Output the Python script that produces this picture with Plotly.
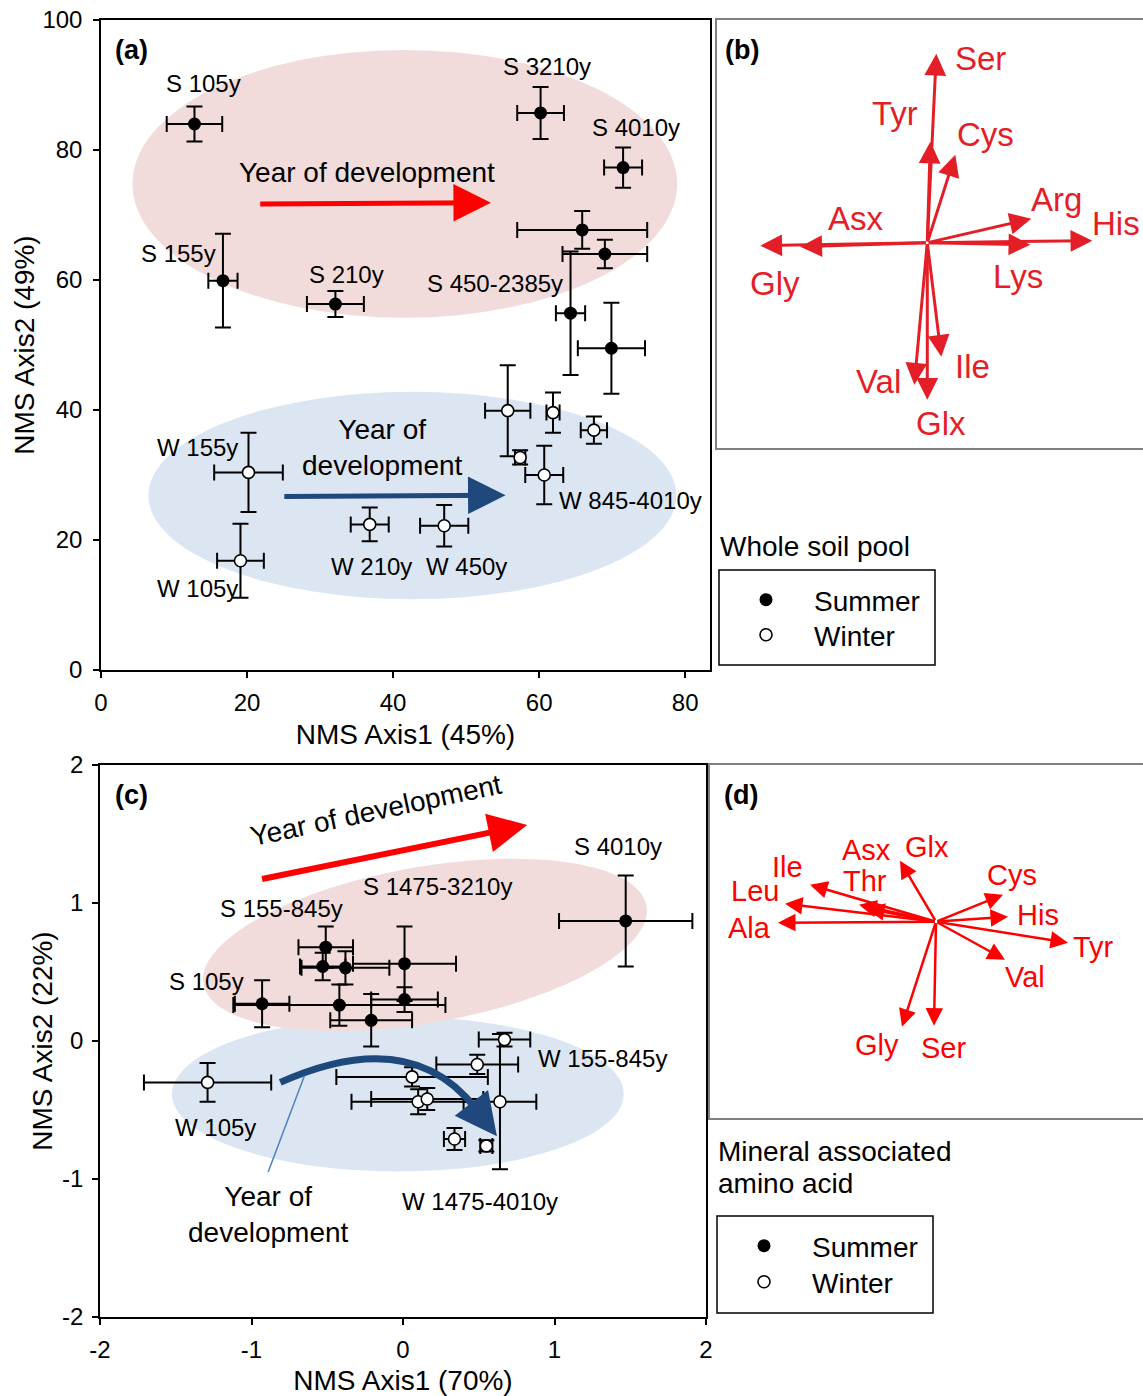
import math
import plotly.graph_objects as go

W, H = 1143, 1396
FONT = "Liberation Sans, Arial, Helvetica, sans-serif"

# ---------------- data ----------------
# (a) whole soil pool, NMS scores (mean and SE) by season
a_sum_x = [12.8, 16.7, 32.1, 65.9, 69.0, 64.3, 69.9, 60.2, 71.5]
a_sum_y = [84.0, 59.9, 56.3, 67.7, 64.0, 54.9, 49.5, 85.7, 77.3]
a_sum_xerr = [3.8, 2.0, 3.9, 8.9, 5.8, 2.0, 4.6, 3.2, 2.6]
a_sum_yerr = [2.7, 7.2, 2.0, 2.9, 2.2, 9.5, 7.0, 4.0, 3.1]

a_win_x = [19.1, 20.2, 36.8, 47.0, 55.7, 61.9, 67.5, 57.4, 60.7]
a_win_y = [16.8, 30.4, 22.4, 22.2, 39.9, 39.6, 36.9, 32.7, 30.0]
a_win_xerr = [3.2, 4.7, 2.6, 3.3, 3.1, 0.9, 1.8, 0.7, 2.6]
a_win_yerr = [5.7, 6.1, 2.6, 3.2, 7.0, 3.1, 2.1, 1.1, 4.5]

# (c) mineral associated amino acids, NMS scores (mean and SE)
c_sum_x = [-0.93, -0.51, -0.53, -0.38, -0.42, 0.01, 0.01, -0.21, 1.47]
c_sum_y = [0.27, 0.68, 0.54, 0.53, 0.26, 0.56, 0.30, 0.15, 0.87]
c_sum_xerr = [0.18, 0.18, 0.15, 0.29, 0.70, 0.34, 0.22, 0.27, 0.44]
c_sum_yerr = [0.17, 0.15, 0.10, 0.12, 0.15, 0.27, 0.09, 0.19, 0.33]

c_win_x = [-1.29, 0.67, 0.49, 0.06, 0.10, 0.16, 0.64, 0.34, 0.55]
c_win_y = [-0.30, 0.01, -0.17, -0.26, -0.44, -0.42, -0.44, -0.71, -0.76]
c_win_xerr = [0.42, 0.17, 0.27, 0.50, 0.44, 0.37, 0.24, 0.07, 0.04]
c_win_yerr = [0.14, 0.05, 0.07, 0.07, 0.09, 0.08, 0.49, 0.08, 0.04]

# (b) amino acid vectors, whole soil pool
b_names = ["Ser", "Tyr", "Cys", "Arg", "His", "Lys", "Asx", "Gly", "Val", "Glx", "Ile"]
b_axis1 = [0.09, 0.03, 0.28, 1.04, 1.65, 1.03, -1.27, -1.67, -0.13, 0.00, 0.14]
b_axis2 = [1.89, 1.01, 0.88, 0.24, 0.02, -0.02, -0.04, -0.03, -1.42, -1.57, -1.14]

# (d) amino acid vectors, mineral associated pool
d_names = ["Glx", "Asx", "Thr", "Ile", "Leu", "Ala", "Cys", "His", "Tyr", "Val", "Gly", "Ser"]
d_axis1 = [-0.36, -0.77, -0.69, -1.26, -1.51, -1.58, 0.67, 0.72, 1.32, 0.69, -0.34, -0.02]
d_axis2 = [0.61, 0.17, 0.13, 0.37, 0.18, -0.01, 0.27, 0.05, -0.21, -0.38, -1.05, -1.04]

# ---------------- layout helpers ----------------
A_BOX = (101, 710, 20, 670)      # left, right, top, bottom (px)
C_BOX = (100, 706, 765, 1317)
B_BOX = (717, 1143, 20, 448)
D_BOX = (710, 1143, 765, 1118)


def xdom(box):
    return [box[0] / W, box[1] / W]


def ydom(box):
    return [(H - box[3]) / H, (H - box[2]) / H]


def px(x):
    return x / W


def py(y):
    return 1 - y / H


RED_B = "#E41E26"
RED_D = "#FF0000"
ARROW_RED = "#FF0000"
ARROW_BLUE = "#1F497D"
PINK = "#F2DCDB"
LIGHTBLUE = "#DCE6F2"

fig = go.Figure()


def err(arr):
    return dict(type="data", array=arr, color="black", thickness=2, width=8)


summer_marker = dict(size=13, color="black", symbol="circle", line=dict(width=0))
winter_marker = dict(size=12, color="white", symbol="circle", line=dict(width=1.6, color="black"))

fig.add_trace(go.Scatter(x=a_sum_x, y=a_sum_y, mode="markers", name="Summer", legend="legend",
                         marker=summer_marker, error_x=err(a_sum_xerr), error_y=err(a_sum_yerr),
                         xaxis="x", yaxis="y", hoverinfo="skip"))
fig.add_trace(go.Scatter(x=a_win_x, y=a_win_y, mode="markers", name="Winter", legend="legend3",
                         marker=winter_marker, error_x=err(a_win_xerr), error_y=err(a_win_yerr),
                         xaxis="x", yaxis="y", hoverinfo="skip"))
fig.add_trace(go.Scatter(x=c_sum_x, y=c_sum_y, mode="markers", name="Summer", legend="legend2",
                         marker=summer_marker, error_x=err(c_sum_xerr), error_y=err(c_sum_yerr),
                         xaxis="x2", yaxis="y2", hoverinfo="skip"))
fig.add_trace(go.Scatter(x=c_win_x, y=c_win_y, mode="markers", name="Winter", legend="legend4",
                         marker=winter_marker, error_x=err(c_win_xerr), error_y=err(c_win_yerr),
                         xaxis="x2", yaxis="y2", hoverinfo="skip"))

shapes = []
annotations = []

# group ellipses, panel (a)
shapes.append(dict(type="circle", xref="x", yref="y", x0=4.3, x1=78.9, y0=54.2, y1=95.4,
                   fillcolor=PINK, line=dict(width=0), layer="below"))
shapes.append(dict(type="circle", xref="x", yref="y", x0=6.5, x1=78.8, y0=10.9, y1=42.8,
                   fillcolor=LIGHTBLUE, line=dict(width=0), layer="below"))


def ellipse_path(cx, cy, rx_px, ry_px, angle_deg, sx, sy, n=90):
    th = math.radians(angle_deg)
    pts = []
    for i in range(n):
        t = 2 * math.pi * i / n
        u, v = rx_px * math.cos(t), ry_px * math.sin(t)
        X = u * math.cos(th) - v * math.sin(th)
        Y = u * math.sin(th) + v * math.cos(th)
        pts.append((cx + X / sx, cy + Y / sy))
    return "M " + " L ".join(f"{x:.4f},{y:.4f}" for x, y in pts) + " Z"


c_sx = (C_BOX[1] - C_BOX[0]) / 4.0
c_sy = (C_BOX[3] - C_BOX[2]) / 4.0
# group ellipses, panel (c)
shapes.append(dict(type="circle", xref="x2", yref="y2", x0=-1.525, x1=1.457, y0=-0.946, y1=0.177,
                   fillcolor=LIGHTBLUE, line=dict(width=0), layer="below"))
shapes.append(dict(type="path", xref="x2", yref="y2",
                   path=ellipse_path(0.145, 0.696, 225, 78, 10, c_sx, c_sy),
                   fillcolor=PINK, line=dict(width=0), layer="below"))

# curved development arrow in (c)
shapes.append(dict(type="path", xref="x2", yref="y2", path="M -0.81,-0.30 Q 0.05,0.12 0.48,-0.49",
                   line=dict(color=ARROW_BLUE, width=7), layer="above"))
annotations.append(dict(x=0.62, y=-0.69, ax=0.47, ay=-0.475, xref="x2", yref="y2", axref="x2", ayref="y2",
                        text="", showarrow=True, arrowhead=2, arrowwidth=7, arrowsize=1.2,
                        arrowcolor=ARROW_BLUE))
shapes.append(dict(type="line", xref="x2", yref="y2", x0=-0.89, y0=-0.95, x1=-0.65, y1=-0.25,
                   line=dict(color="#4F81BD", width=1.5), layer="above"))

# straight development arrows
annotations.append(dict(x=53.4, y=71.9, ax=21.6, ay=71.7, xref="x", yref="y", axref="x", ayref="y",
                        text="", showarrow=True, arrowhead=2, arrowwidth=5, arrowsize=1.5,
                        arrowcolor=ARROW_RED))
annotations.append(dict(x=55.4, y=26.9, ax=24.9, ay=26.7, xref="x", yref="y", axref="x", ayref="y",
                        text="", showarrow=True, arrowhead=2, arrowwidth=5, arrowsize=1.5,
                        arrowcolor=ARROW_BLUE))
annotations.append(dict(x=0.82, y=1.565, ax=-0.94, ay=1.172, xref="x2", yref="y2", axref="x2", ayref="y2",
                        text="", showarrow=True, arrowhead=2, arrowwidth=6, arrowsize=1.3,
                        arrowcolor=ARROW_RED))


def label(x, y, text, xref, yref, size=24, color="black", xanchor="center", yanchor="middle", **kw):
    d = dict(x=x, y=y, xref=xref, yref=yref, text=text, showarrow=False,
             xanchor=xanchor, yanchor=yanchor,
             font=dict(family=FONT, size=size, color=color))
    d.update(kw)
    annotations.append(d)


# site labels, panel (a)
for t, x, y in [("S 105y", 14.1, 90.2), ("S 3210y", 61.1, 92.9), ("S 4010y", 73.2, 83.4),
                ("S 155y", 10.6, 64.0), ("S 210y", 33.6, 60.8), ("S 450-2385y", 54.0, 59.4),
                ("W 155y", 13.2, 34.3), ("W 105y", 13.2, 12.6), ("W 210y", 37.1, 16.0),
                ("W 450y", 50.0, 16.0), ("W 845-4010y", 72.5, 26.0)]:
    label(x, y, t, "x", "y")
label(36.4, 76.6, "Year of development", "x", "y", size=28)
label(38.6, 34.2, "Year of<br>development", "x", "y", size=28)

# site labels, panel (c)
for t, x, y in [("S 4010y", 1.42, 1.41), ("S 1475-3210y", 0.23, 1.12), ("S 155-845y", -0.80, 0.96),
                ("S 105y", -1.30, 0.43), ("W 155-845y", 1.32, -0.13), ("W 105y", -1.24, -0.63),
                ("W 1475-4010y", 0.51, -1.16)]:
    label(x, y, t, "x2", "y2")
label(-0.18, 1.67, "Year of development", "x2", "y2", size=28, textangle=-12)
label(-0.89, -1.26, "Year of<br>development", "x2", "y2", size=28)

# amino acid vectors, panel (b)
b_label_pos = {"Ser": (0.53, 1.84), "Tyr": (-0.32, 1.29), "Cys": (0.58, 1.08), "Arg": (1.29, 0.43),
               "His": (1.89, 0.19), "Lys": (0.91, -0.34), "Asx": (-0.71, 0.24), "Gly": (-1.52, -0.41),
               "Val": (-0.49, -1.39), "Ile": (0.45, -1.24), "Glx": (0.14, -1.81)}
for n, vx, vy in zip(b_names, b_axis1, b_axis2):
    annotations.append(dict(x=vx, y=vy, ax=0, ay=0, xref="x3", yref="y3", axref="x3", ayref="y3",
                            text="", showarrow=True, arrowhead=2, arrowwidth=3, arrowsize=1.45,
                            arrowcolor=RED_B))
    lx, ly = b_label_pos[n]
    label(lx, ly, n, "x3", "y3", size=33, color=RED_B)

# amino acid vectors, panel (d)
d_label_pos = {"Asx": (-0.70, 0.72), "Glx": (-0.09, 0.75), "Ile": (-1.49, 0.55), "Thr": (-0.71, 0.41),
               "Leu": (-1.81, 0.31), "Ala": (-1.87, -0.06), "Cys": (0.76, 0.47), "His": (1.02, 0.07),
               "Tyr": (1.57, -0.25), "Val": (0.89, -0.55), "Gly": (-0.59, -1.23), "Ser": (0.07, -1.26)}
for n, vx, vy in zip(d_names, d_axis1, d_axis2):
    annotations.append(dict(x=vx, y=vy, ax=0, ay=0, xref="x4", yref="y4", axref="x4", ayref="y4",
                            text="", showarrow=True, arrowhead=2, arrowwidth=2.5, arrowsize=1.4,
                            arrowcolor=RED_D))
    lx, ly = d_label_pos[n]
    label(lx, ly, n, "x4", "y4", size=29, color=RED_D)

# panel letters
for t, x, y in [("(a)", 131, 50), ("(b)", 742, 50), ("(c)", 131, 795), ("(d)", 741, 795)]:
    label(px(x), py(y), f"<b>{t}</b>", "paper", "paper", size=27)

# legend titles and frames
label(px(718), py(546), "Whole soil pool", "paper", "paper", size=28, xanchor="left")
label(px(716), py(1151), "Mineral associated", "paper", "paper", size=28, xanchor="left")
label(px(716), py(1183), "amino acid", "paper", "paper", size=28, xanchor="left")
shapes.append(dict(type="rect", xref="paper", yref="paper", x0=px(719), x1=px(935), y0=py(665), y1=py(570),
                   line=dict(color="black", width=1.5)))
shapes.append(dict(type="rect", xref="paper", yref="paper", x0=px(717), x1=px(933), y0=py(1313), y1=py(1216),
                   line=dict(color="black", width=1.5)))


def leg(xc, yc):
    return dict(x=px(xc - 48), y=py(yc), xanchor="left", yanchor="middle", bgcolor="rgba(0,0,0,0)",
                borderwidth=0, itemwidth=86, font=dict(family=FONT, size=28, color="black"))


axis_common = dict(showgrid=False, zeroline=False, showline=True, linecolor="black", linewidth=1.5,
                   mirror=True, ticks="outside", ticklen=6, tickwidth=1.5, tickcolor="black",
                   automargin=False, tickfont=dict(family=FONT, size=24, color="black"))
box_common = dict(showgrid=False, zeroline=False, showline=True, linecolor="#808080", linewidth=1.5,
                  ticks="", showticklabels=False, fixedrange=True, automargin=False)

fig.update_layout(
    template="none",
    width=W, height=H, margin=dict(l=0, r=0, t=0, b=0, pad=0, autoexpand=False),
    paper_bgcolor="white", plot_bgcolor="white", hovermode=False,
    font=dict(family=FONT, color="black"),
    showlegend=True,
    legend=leg(766, 600), legend3=leg(766, 635),
    legend2=leg(764, 1246), legend4=leg(764, 1282),
    xaxis=dict(domain=xdom(A_BOX), range=[0, 83.4], tickvals=[0, 20, 40, 60, 80], anchor="y",
               ticklabelstandoff=4,
               title=dict(text="NMS Axis1 (45%)", font=dict(size=28), standoff=10), **axis_common),
    yaxis=dict(domain=ydom(A_BOX), range=[0, 100], tickvals=[0, 20, 40, 60, 80, 100], anchor="x",
               ticklabelstandoff=6,
               title=dict(text="NMS Axis2 (49%)", font=dict(size=28), standoff=0), **axis_common),
    xaxis2=dict(domain=xdom(C_BOX), range=[-2, 2], tickvals=[-2, -1, 0, 1, 2],
                ticktext=["-2", "-1", "0", "1", "2"], anchor="y2", ticklabelstandoff=4,
                title=dict(text="NMS Axis1 (70%)", font=dict(size=28), standoff=10), **axis_common),
    yaxis2=dict(domain=ydom(C_BOX), range=[-2, 2], tickvals=[-2, -1, 0, 1, 2],
                ticktext=["-2", "-1", "0", "1", "2"], anchor="x2", ticklabelstandoff=4,
                title=dict(text="NMS Axis2 (22%)", font=dict(size=28), standoff=1), **axis_common),
    xaxis3=dict(domain=xdom(B_BOX), range=[-2.103, 2.157], anchor="y3", mirror=True, **box_common),
    yaxis3=dict(domain=ydom(B_BOX), range=[-2.053, 2.227], anchor="x3", **box_common),
    xaxis4=dict(domain=xdom(D_BOX), range=[-2.26, 2.07], anchor="y4", mirror=True, **box_common),
    yaxis4=dict(domain=ydom(D_BOX), range=[-1.963, 1.567], anchor="x4", **box_common),
    shapes=shapes, annotations=annotations,
)

fig.write_html("out.html", config={"displayModeBar": False})
